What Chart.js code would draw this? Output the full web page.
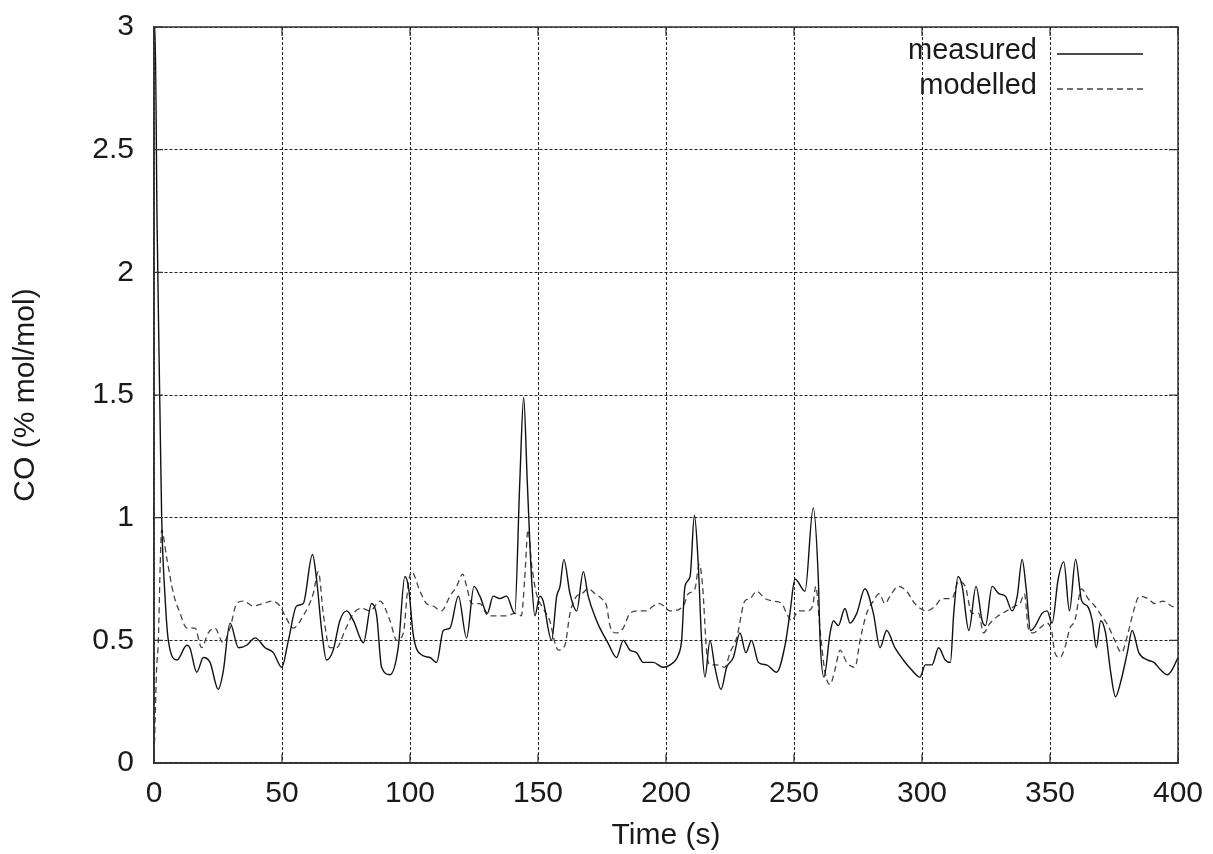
<!DOCTYPE html>
<html>
<head>
<meta charset="utf-8">
<script src="https://cdn.jsdelivr.net/npm/chart.js@4/dist/chart.umd.min.js"></script>
<style>
  body { margin: 0; background: #fff; }
  #wrap { width: 1213px; height: 854px; }
</style>
</head>
<body>
<div id="wrap"><canvas id="coChart" width="1213" height="854"></canvas></div>
<script>
// CO data
const measuredTime = [0, 0.4, 1.2, 2.3, 3, 4.3, 5.6, 9, 12.8, 14, 16.7, 19.3, 21.9, 25.1, 27, 29.7, 33, 36.2, 39.5, 43.4,
  46.6, 49.9, 52.5, 55.7, 58.3, 61.9, 63.5, 65.5, 67.4, 70, 72.6, 75.3, 77.9, 81.8, 85, 87, 88.9, 92.2, 95.4, 98,
  99.5, 101.3, 104.6, 107.8, 110.4, 113, 115.6, 118.9, 122.1, 125, 127.3, 130.2, 132.5, 135.1, 137.7, 140.9, 142.9, 144.4, 145.8, 147.5,
  148.8, 150.7, 152, 155.3, 157.3, 158.6, 160.1, 162.5, 165.1, 167.7, 169.6, 172.9, 174.2, 177.3, 180.7, 183.3, 185.9, 188.5, 191.1, 195,
  198.9, 201.6, 204.8, 206.1, 207.4, 209.4, 211.1, 212.6, 213.9, 215.2, 217.2, 219.1, 221.5, 223.7, 226.3, 228.9, 231.2, 233.4, 236.1, 239.3,
  243.2, 246.5, 248.4, 250.4, 254.3, 257.5, 259.5, 260.2, 261.7, 264.1, 265.4, 267.3, 269.9, 271.9, 274.5, 277.7, 281, 283.6, 286.2, 289.4,
  292.7, 295.9, 299.2, 301.3, 303.9, 306.5, 309.1, 311.1, 312.4, 314.1, 315.7, 318.3, 321.1, 323.5, 324.8, 327.4, 330, 332.6, 335.2, 337.2,
  339.1, 340.7, 342.4, 344.3, 346.9, 348.9, 350.8, 353.2, 355.4, 357.6, 360, 362.4, 364.6, 366.5, 368.1, 369.8, 371.7, 373.7, 375.6, 377.6,
  380.2, 382.1, 384.7, 388, 390.6, 393.2, 395.8, 397.7, 400];
const measuredCO = [2.95, 3.0, 2.2, 1.45, 1.0, 0.68, 0.5, 0.42, 0.48, 0.47, 0.37, 0.43, 0.41, 0.30, 0.37, 0.57, 0.47, 0.48, 0.51, 0.47,
  0.45, 0.39, 0.50, 0.64, 0.65, 0.85, 0.75, 0.54, 0.42, 0.46, 0.58, 0.62, 0.58, 0.49, 0.65, 0.60, 0.39, 0.36, 0.47, 0.76,
  0.71, 0.52, 0.44, 0.43, 0.41, 0.54, 0.55, 0.68, 0.51, 0.72, 0.68, 0.61, 0.68, 0.67, 0.68, 0.61, 1.15, 1.49, 1.15, 0.75,
  0.60, 0.68, 0.66, 0.50, 0.68, 0.72, 0.83, 0.69, 0.62, 0.78, 0.68, 0.58, 0.55, 0.49, 0.43, 0.50, 0.46, 0.45, 0.41, 0.41,
  0.39, 0.40, 0.44, 0.50, 0.72, 0.76, 1.01, 0.81, 0.50, 0.35, 0.50, 0.39, 0.30, 0.39, 0.43, 0.53, 0.45, 0.50, 0.41, 0.40,
  0.37, 0.48, 0.61, 0.75, 0.70, 1.04, 0.75, 0.50, 0.35, 0.53, 0.58, 0.56, 0.63, 0.57, 0.61, 0.71, 0.61, 0.47, 0.54, 0.47,
  0.42, 0.38, 0.35, 0.40, 0.40, 0.47, 0.42, 0.41, 0.61, 0.76, 0.72, 0.54, 0.72, 0.58, 0.56, 0.72, 0.69, 0.68, 0.62, 0.68,
  0.83, 0.71, 0.54, 0.56, 0.61, 0.62, 0.57, 0.75, 0.82, 0.62, 0.83, 0.66, 0.64, 0.58, 0.47, 0.58, 0.53, 0.37, 0.27, 0.33,
  0.45, 0.54, 0.45, 0.42, 0.41, 0.38, 0.36, 0.38, 0.43];

const modelledTime = [0, 0.5, 1, 1.7, 2.4, 3, 4.9, 7.6, 10.2, 12.8, 16, 18.6, 21.2, 23.8, 27, 29.7, 32.3, 34.9, 38.8, 42.7,
  46, 49.2, 51.2, 54.4, 58.3, 62.2, 64.2, 66.1, 68.7, 71.3, 74.6, 77.9, 81.1, 84.4, 88.3, 92.2, 94.8, 97.4, 99.2, 100.6,
  103.9, 106.4, 109, 112.3, 115.6, 118.2, 120.6, 122.1, 124.1, 127.3, 130.6, 133.8, 137.7, 140.9, 143.5, 144.8, 146.1, 147.5, 149.4, 152,
  154.6, 156.6, 157.9, 160.5, 162.5, 165.1, 167.1, 169.6, 172.3, 174.8, 176.8, 178.1, 180.7, 183.3, 185.9, 189.1, 192.4, 195, 197.5, 201.6,
  206.8, 208.7, 211.3, 213, 214.3, 215.9, 217.2, 219.8, 223, 225, 227.6, 230.8, 232.8, 235.4, 238.7, 241.9, 245.2, 247.1, 249.1, 251.7,
  255, 257.3, 258.5, 260.2, 262.1, 264.1, 266, 268, 270.6, 273.8, 275.8, 278.4, 281, 283.3, 285.5, 287.5, 290.7, 294, 297.2, 301.9,
  305.2, 307.8, 311.7, 314.3, 316.9, 319.5, 322.1, 324, 326.6, 329.8, 333.1, 336.3, 338.3, 340, 341.5, 343.5, 346.1, 348.7, 350.6, 351.9,
  353.9, 355.8, 357.8, 359.7, 362.3, 364.9, 367.5, 370.1, 372.7, 375.3, 377.9, 380.5, 382.4, 385, 388.3, 390.9, 394.2, 397.4, 400];
const modelledCO = [0, 0.2, 0.38, 0.5, 0.8, 0.95, 0.84, 0.69, 0.61, 0.55, 0.55, 0.47, 0.53, 0.55, 0.49, 0.55, 0.65, 0.66, 0.64, 0.65,
  0.66, 0.64, 0.60, 0.55, 0.60, 0.69, 0.78, 0.61, 0.47, 0.47, 0.54, 0.61, 0.63, 0.62, 0.66, 0.58, 0.50, 0.53, 0.72, 0.78,
  0.70, 0.65, 0.64, 0.62, 0.68, 0.72, 0.77, 0.72, 0.65, 0.65, 0.60, 0.60, 0.60, 0.61, 0.60, 0.75, 0.95, 0.81, 0.69, 0.63,
  0.58, 0.49, 0.46, 0.48, 0.61, 0.68, 0.69, 0.71, 0.69, 0.67, 0.64, 0.56, 0.53, 0.55, 0.61, 0.62, 0.62, 0.64, 0.65, 0.62,
  0.64, 0.69, 0.71, 0.81, 0.72, 0.45, 0.40, 0.40, 0.39, 0.45, 0.51, 0.66, 0.67, 0.70, 0.67, 0.66, 0.65, 0.61, 0.58, 0.62,
  0.62, 0.64, 0.72, 0.54, 0.37, 0.32, 0.38, 0.46, 0.41, 0.39, 0.50, 0.61, 0.66, 0.69, 0.65, 0.68, 0.72, 0.70, 0.65, 0.62,
  0.64, 0.67, 0.67, 0.74, 0.72, 0.61, 0.61, 0.53, 0.57, 0.60, 0.62, 0.64, 0.65, 0.69, 0.55, 0.53, 0.55, 0.57, 0.54, 0.45,
  0.43, 0.47, 0.55, 0.58, 0.71, 0.67, 0.64, 0.60, 0.56, 0.50, 0.45, 0.53, 0.61, 0.68, 0.67, 0.65, 0.66, 0.64, 0.63];

const xTicks = [0, 50, 100, 150, 200, 250, 300, 350, 400];
const yTicks = [0, 0.5, 1, 1.5, 2, 2.5, 3];

const FONT = "'Liberation Sans', Arial, sans-serif";
const INK = '#1a1a1a';

// gnuplot-like frame, inward tick marks and a right-aligned legend
const framePlugin = {
    id: 'frame',
    afterDatasetsDraw(chart) {
        const { ctx, chartArea: a, scales } = chart;
        ctx.save();
        ctx.strokeStyle = '#333';
        ctx.lineWidth = 1.5;
        ctx.setLineDash([]);
        ctx.strokeRect(a.left, a.top, a.right - a.left, a.bottom - a.top);
        ctx.lineWidth = 1.2;
        ctx.beginPath();
        scales.x.ticks.forEach(t => {
            const px = scales.x.getPixelForValue(t.value);
            ctx.moveTo(px, a.bottom); ctx.lineTo(px, a.bottom - 9);
            ctx.moveTo(px, a.top); ctx.lineTo(px, a.top + 9);
        });
        scales.y.ticks.forEach(t => {
            const py = scales.y.getPixelForValue(t.value);
            ctx.moveTo(a.left, py); ctx.lineTo(a.left + 9, py);
            ctx.moveTo(a.right, py); ctx.lineTo(a.right - 9, py);
        });
        ctx.stroke();

        // legend
        ctx.font = '29px ' + FONT;
        ctx.textAlign = 'right';
        ctx.textBaseline = 'middle';
        chart.data.datasets.forEach((ds, i) => {
            const y = a.top + 24 + i * 35;
            ctx.fillStyle = INK;
            ctx.fillText(ds.label, 1037, y);
            ctx.strokeStyle = ds.borderColor;
            ctx.lineWidth = ds.borderWidth;
            ctx.setLineDash(ds.borderDash || []);
            ctx.beginPath();
            ctx.moveTo(1057, y + 3);
            ctx.lineTo(1143, y + 3);
            ctx.stroke();
        });
        ctx.restore();
    }
};

const ctx = document.getElementById('coChart').getContext('2d');
new Chart(ctx, {
    type: 'line',
    data: {
        datasets: [{
            label: 'measured',
            data: measuredTime.map((t, i) => ({ x: t, y: measuredCO[i] })),
            borderColor: '#111',
            borderWidth: 1.4,
            pointRadius: 0,
            cubicInterpolationMode: 'monotone',
            fill: false
        }, {
            label: 'modelled',
            data: modelledTime.map((t, i) => ({ x: t, y: modelledCO[i] })),
            borderColor: '#444',
            borderWidth: 1.3,
            borderDash: [6, 4],
            pointRadius: 0,
            cubicInterpolationMode: 'monotone',
            fill: false
        }]
    },
    options: {
        responsive: false,
        animation: false,
        devicePixelRatio: 1,
        layout: { padding: { top: 27, right: 35, left: 0, bottom: 0 } },
        plugins: {
            legend: { display: false },
            tooltip: { enabled: false }
        },
        scales: {
            x: {
                type: 'linear',
                min: 0,
                max: 400,
                afterBuildTicks: scale => { scale.ticks = xTicks.map(v => ({ value: v })); },
                afterFit: scale => {
                    scale.height = 91;
                    scale.paddingLeft = 0;
                    scale.paddingRight = 0;
                },
                grid: { color: '#222', lineWidth: 1, drawTicks: false },
                border: { display: true, color: '#333', width: 1.5, dash: [3, 2] },
                ticks: {
                    padding: 13,
                    color: INK,
                    font: { family: FONT, size: 30 },
                    maxRotation: 0,
                    callback: v => String(v)
                },
                title: {
                    display: true,
                    text: 'Time (s)',
                    color: INK,
                    font: { family: FONT, size: 30 },
                    padding: { top: 0, bottom: 0 }
                }
            },
            y: {
                min: 0,
                max: 3,
                afterBuildTicks: scale => { scale.ticks = yTicks.map(v => ({ value: v })); },
                afterFit: scale => {
                    scale.width = 154;
                    scale.paddingTop = 0;
                    scale.paddingBottom = 0;
                },
                grid: { color: '#222', lineWidth: 1, drawTicks: false },
                border: { display: true, color: '#333', width: 1.5, dash: [3, 2] },
                ticks: {
                    padding: 20,
                    color: INK,
                    font: { family: FONT, size: 30 },
                    callback: v => String(v)
                },
                title: {
                    display: true,
                    text: 'CO (% mol/mol)',
                    color: INK,
                    font: { family: FONT, size: 30 },
                    padding: { top: 8, bottom: 0 }
                }
            }
        }
    },
    plugins: [framePlugin]
});
</script>
</body>
</html>
